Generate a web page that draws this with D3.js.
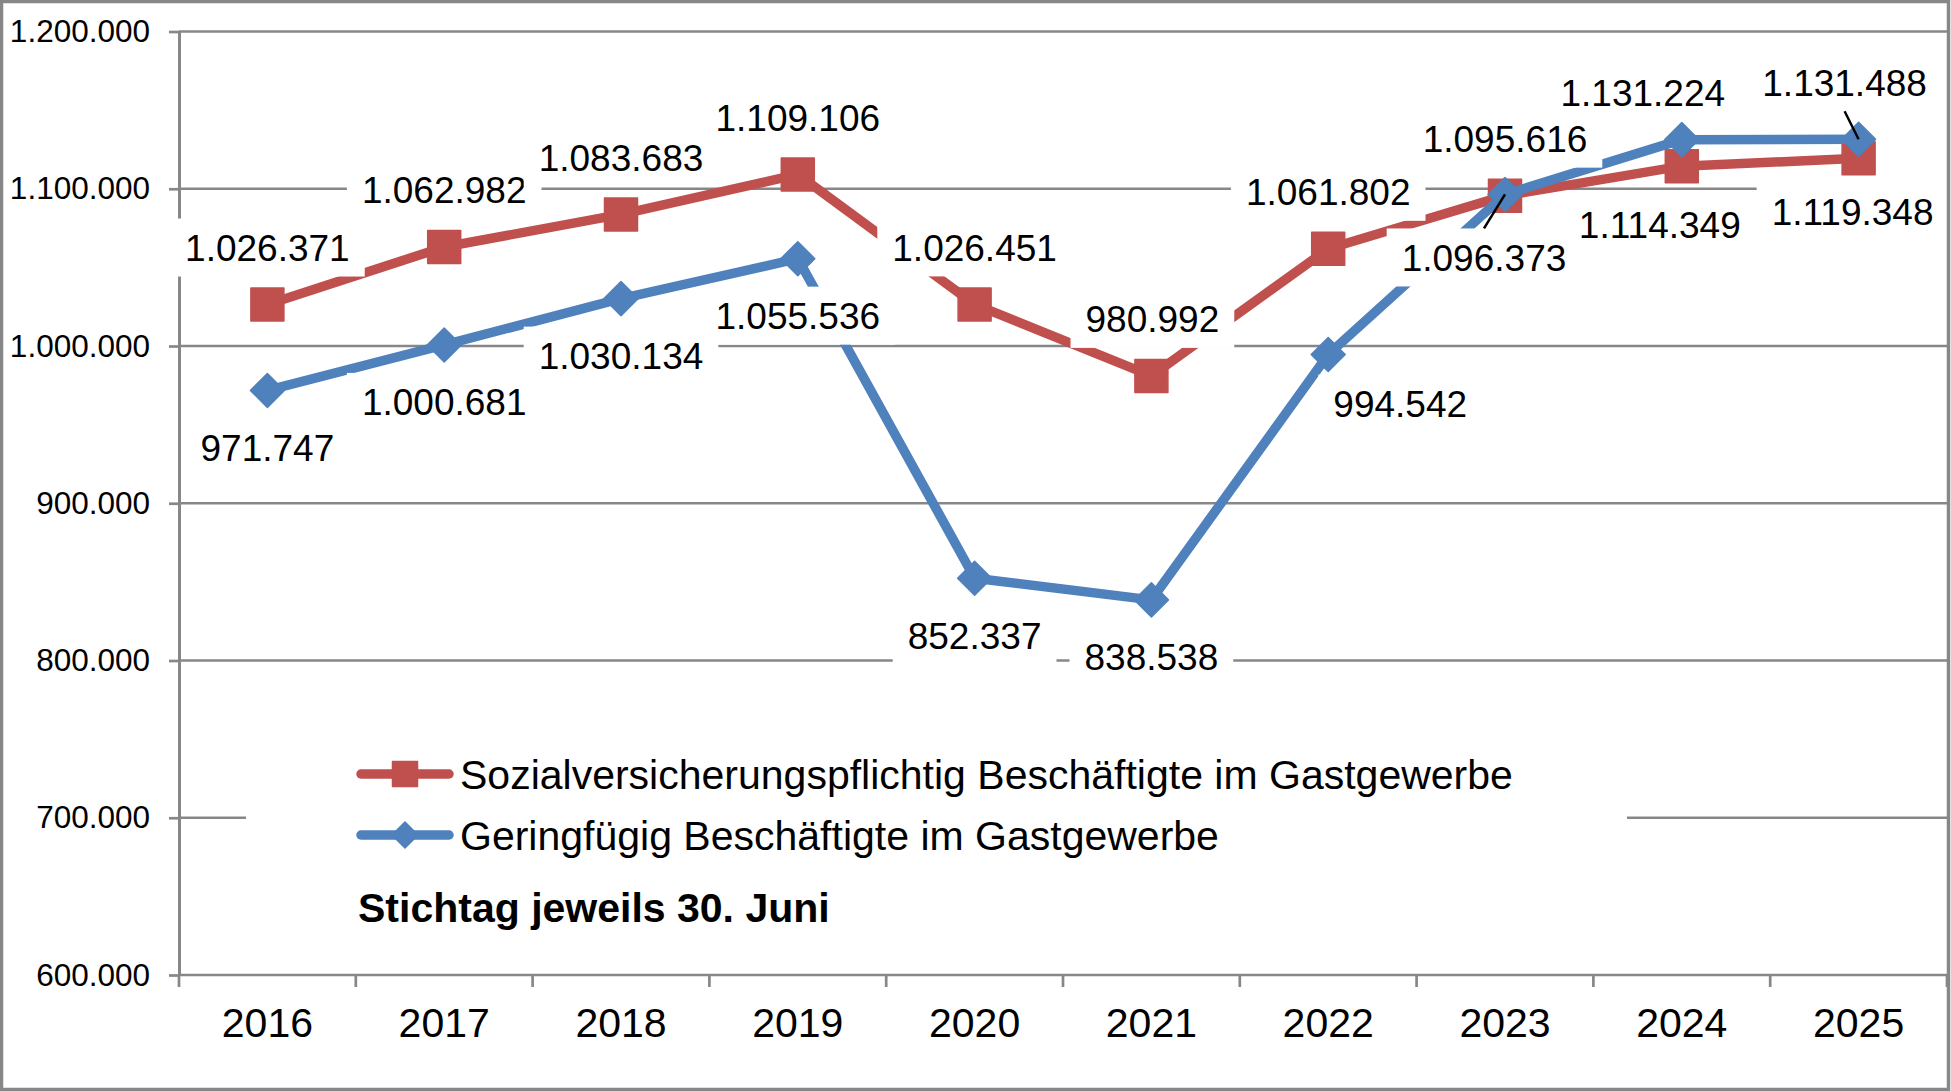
<!DOCTYPE html>
<html>
<head>
<meta charset="utf-8">
<script src="https://cdn.jsdelivr.net/npm/d3@7"></script>
<style>
	body { margin: 0; background: #fff; }
	svg { display: block; font-family: "Liberation Sans", Arial, sans-serif; }
</style>
</head>
<body>
<svg id="chart" width="1951" height="1091"></svg>
<script>
// chart data
var years = ["2016", "2017", "2018", "2019", "2020", "2021", "2022", "2023", "2024", "2025"];
var svpValues = [1026371, 1062982, 1083683, 1109106, 1026451, 980992, 1061802, 1095616, 1114349, 1119348];
var gfbValues = [971747, 1000681, 1030134, 1055536, 852337, 838538, 994542, 1096373, 1131224, 1131488];
var yTicks = [600000, 700000, 800000, 900000, 1000000, 1100000, 1200000];
var seriesNames = [
	"Sozialversicherungspflichtig Beschäftigte im Gastgewerbe",
	"Geringfügig Beschäftigte im Gastgewerbe"
];
var noteText = "Stichtag jeweils 30. Juni";

// where each data label sits relative to its point (layout only)
var svpLabelPos = [[0, -57], [0, -57], [0, -57], [0, -57], [0, -57], [1, -57], [0, -57], [0, -57], [-22, 58], [-6, 53]];
var gfbLabelPos = [[0, 57], [0, 57], [0, 57], [0, 57], [0, 57], [0, 57], [72, 49], [-21, 63], [-39, -47], [-14, -57]];
var gfbLeaders = [7, 9];

(function() {

	var W = 1951, H = 1091;
	var plotLeft = 179, plotRight = 1947, plotTop = 31.5, plotBottom = 975;
	var gridColor = "#878787";
	var red = "#C0504D", blue = "#4F81BD";
	var fontFam = "'Liberation Sans', Arial, sans-serif";

	var de = d3.formatLocale({decimal: ",", thousands: ".", grouping: [3], currency: ["", " €"]});
	var fmt = de.format(",d");

	var x = d3.scaleBand().domain(years).range([plotLeft, plotRight]);
	var y = d3.scaleLinear().domain([600000, 1200000]).range([plotBottom, plotTop]);
	var cx = function(year) { return x(year) + x.bandwidth() / 2; };

	var svg = d3.select("#chart");

	svg.append("rect")
		.attr("width", W).attr("height", H)
		.attr("fill", "#fff");

	// horizontal gridlines
	svg.append("g").selectAll("line")
		.data(yTicks).enter()
		.append("line")
			.attr("x1", plotLeft).attr("x2", plotRight)
			.attr("y1", function(d) { return y(d); })
			.attr("y2", function(d) { return y(d); })
			.attr("stroke", gridColor)
			.attr("stroke-width", 2.7);

	// y axis
	var yAxis = svg.append("g")
		.attr("transform", "translate(" + plotLeft + ",0)")
		.call(d3.axisLeft(y).tickValues(yTicks).tickSize(10).tickSizeOuter(0).tickPadding(19).tickFormat(fmt));
	yAxis.select(".domain").attr("stroke", gridColor).attr("stroke-width", 3);
	yAxis.selectAll(".tick line").attr("stroke", gridColor).attr("stroke-width", 2.7);
	yAxis.selectAll(".tick text")
		.attr("font-size", 31.5)
		.attr("font-family", fontFam)
		.attr("fill", "#000");

	// x axis: labels centred, ticks on category boundaries
	var xAxis = svg.append("g")
		.attr("transform", "translate(0," + plotBottom + ")")
		.call(d3.axisBottom(x).tickSize(0).tickPadding(33));
	xAxis.select(".domain").remove();
	xAxis.selectAll(".tick text")
		.attr("font-size", 41)
		.attr("font-family", fontFam)
		.attr("fill", "#000");
	var bounds = years.map(function(d) { return x(d); }).concat([plotRight]);
	svg.append("g").selectAll("line")
		.data(bounds).enter()
		.append("line")
			.attr("x1", function(d) { return d; })
			.attr("x2", function(d) { return d; })
			.attr("y1", plotBottom)
			.attr("y2", plotBottom + 12)
			.attr("stroke", gridColor)
			.attr("stroke-width", 2.7);

	// series
	var line = d3.line()
		.x(function(d, i) { return cx(years[i]); })
		.y(function(d) { return y(d); });

	var drawSeries = function(values, color, shape, size) {
		svg.append("path")
			.datum(values)
			.attr("d", line)
			.attr("fill", "none")
			.attr("stroke", color)
			.attr("stroke-width", 9.5)
			.attr("stroke-linejoin", "round");
		svg.append("g").selectAll("path")
			.data(values).enter()
			.append("path")
				.attr("transform", function(d, i) { return "translate(" + cx(years[i]) + "," + y(d) + ")"; })
				.attr("d", shapePath(shape, size))
				.attr("fill", color)
				.attr("stroke", color)
				.attr("stroke-width", 1.5)
				.attr("stroke-linejoin", "round");
	};

	function shapePath(shape, size) {
		var h = size / 2;
		if (shape == "square") {
			return "M" + (-h) + "," + (-h) + "H" + h + "V" + h + "H" + (-h) + "Z";
		}
		return "M0," + (-h) + "L" + h + ",0L0," + h + "L" + (-h) + ",0Z";
	}

	drawSeries(svpValues, red, "square", 33);
	drawSeries(gfbValues, blue, "diamond", 34);

	// data labels with white boxes
	var labelLayer = svg.append("g");
	var leaderLayer = svg.append("g");

	var drawLabels = function(values, positions, leaders) {
		values.forEach(function(v, i) {
			var px = cx(years[i]), py = y(v);
			var lx = px + positions[i][0], ly = py + positions[i][1];
			var g = labelLayer.append("g");
			var txt = g.append("text")
				.attr("x", lx)
				.attr("y", ly + 13.5)
				.attr("text-anchor", "middle")
				.attr("font-size", 37)
				.attr("font-family", fontFam)
				.attr("fill", "#000")
				.text(fmt(v));
			var tw = txt.node().getComputedTextLength();
			g.insert("rect", "text")
				.attr("x", lx - tw / 2 - 15)
				.attr("y", ly - 29)
				.attr("width", tw + 30)
				.attr("height", 58)
				.attr("fill", "#fff");
			if (leaders && leaders.indexOf(i) >= 0) {
				var edge = (py < ly) ? ly - 29 : ly + 29;
				leaderLayer.append("line")
					.attr("x1", lx).attr("y1", edge)
					.attr("x2", px).attr("y2", py)
					.attr("stroke", "#000")
					.attr("stroke-width", 2.5);
			}
		});
	};

	drawLabels(svpValues, svpLabelPos);
	drawLabels(gfbValues, gfbLabelPos, gfbLeaders);

	// legend
	var legend = svg.append("g");
	legend.append("rect")
		.attr("x", 246).attr("y", 700)
		.attr("width", 1627 - 246).attr("height", 250)
		.attr("fill", "#fff");
	var legendItems = [
		{name: seriesNames[0], color: red, shape: "square", y: 774},
		{name: seriesNames[1], color: blue, shape: "diamond", y: 835}
	];
	legendItems.forEach(function(item) {
		legend.append("line")
			.attr("x1", 361).attr("x2", 449)
			.attr("y1", item.y).attr("y2", item.y)
			.attr("stroke", item.color)
			.attr("stroke-width", 9.5)
			.attr("stroke-linecap", "round");
		legend.append("path")
			.attr("transform", "translate(405," + item.y + ")")
			.attr("d", shapePath(item.shape, item.shape == "square" ? 25 : 26))
			.attr("fill", item.color)
			.attr("stroke", item.color)
			.attr("stroke-width", 1.5)
			.attr("stroke-linejoin", "round");
		legend.append("text")
			.attr("x", 460)
			.attr("y", item.y + 15)
			.attr("font-size", 41)
			.attr("font-family", fontFam)
			.attr("fill", "#000")
			.text(item.name);
	});
	legend.append("text")
		.attr("x", 358)
		.attr("y", 922)
		.attr("font-size", 41)
		.attr("font-weight", "bold")
		.attr("font-family", fontFam)
		.attr("fill", "#000")
		.text(noteText);

	// outer frame
	svg.append("rect")
		.attr("x", 1.5).attr("y", 1.5)
		.attr("width", W - 4).attr("height", H - 3)
		.attr("fill", "none")
		.attr("stroke", gridColor)
		.attr("stroke-width", 3.5);

})();
</script>
</body>
</html>
